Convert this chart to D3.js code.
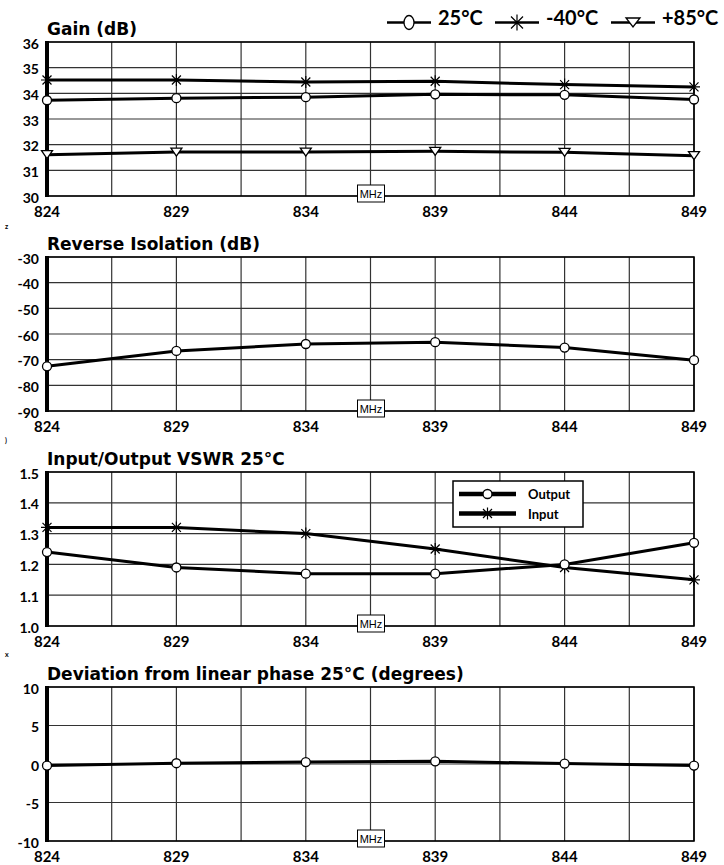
<!DOCTYPE html>
<html>
<head>
<meta charset="utf-8">
<script src="https://cdn.jsdelivr.net/npm/d3@7"></script>
<style>
  body { margin: 0; background: #fff; }
  svg { display: block; font-family: Lato, "Open Sans", sans-serif; }
</style>
</head>
<body>
<main></main>
<script>
const width = 724;
const height = 865;

// frequencies (MHz)
const freqs = [824, 829, 834, 839, 844, 849];
const freqTicks = [824, 829, 834, 839, 844, 849];
const freqGrid = [826.5, 831.5, 836.5, 841.5, 846.5];

// Gain (dB)
const gain25 = [33.73, 33.81, 33.85, 33.96, 33.94, 33.76];
const gainMinus40 = [34.52, 34.52, 34.44, 34.47, 34.34, 34.25];
const gainPlus85 = [31.61, 31.71, 31.71, 31.74, 31.7, 31.57];
const gainTicks = [30, 31, 32, 33, 34, 35, 36];

// Reverse isolation (dB)
const isolation = [-72.6, -66.6, -63.9, -63.2, -65.3, -70.2];
const isolationTicks = [-90, -80, -70, -60, -50, -40, -30];

// VSWR 25°C
const vswrOutput = [1.24, 1.19, 1.17, 1.17, 1.2, 1.27];
const vswrInput = [1.32, 1.32, 1.3, 1.25, 1.19, 1.15];
const vswrTicks = [1.0, 1.1, 1.2, 1.3, 1.4, 1.5];

// Deviation from linear phase (degrees)
const phase = [-0.2, 0.1, 0.25, 0.35, 0.05, -0.2];
const phaseTicks = [-10, -5, 0, 5, 10];

const svg = d3
  .select("main")
  .append("svg")
  .attr("width", width)
  .attr("height", height)
  .attr("viewBox", `0 0 ${width} ${height}`);

const left = 47;
const right = 694;
const panelHeight = 154;

const x = d3.scaleLinear().domain([824, 849]).range([left, right]);

function marker(g, type, cx, cy, big) {
  if (type === "circle") {
    g.append("ellipse")
      .attr("cx", cx)
      .attr("cy", cy)
      .attr("rx", big ? 5 : 4.5)
      .attr("ry", big ? 7 : 4.5)
      .attr("fill", "#fff")
      .attr("stroke", "#000")
      .attr("stroke-width", 1.3);
  } else if (type === "star") {
    const s = big ? 8 : 6;
    const d = s * 0.75;
    g.append("path")
      .attr(
        "d",
        `M${cx - s},${cy}H${cx + s}M${cx},${cy - s}V${cy + s}` +
          `M${cx - d},${cy - d}L${cx + d},${cy + d}M${cx - d},${cy + d}L${cx + d},${cy - d}`
      )
      .attr("stroke", "#000")
      .attr("stroke-width", 1.2)
      .attr("fill", "none");
  } else if (type === "triangle") {
    const w = big ? 7 : 5.5;
    const h = big ? 9 : 8;
    g.append("path")
      .attr(
        "d",
        `M${cx - w},${cy - h / 2}L${cx + w},${cy - h / 2}L${cx},${cy + h / 2}Z`
      )
      .attr("fill", "#fff")
      .attr("stroke", "#000")
      .attr("stroke-width", 1.3);
  }
}

function drawPanel(top, title, domain, ticks, fmt, series) {
  const y = d3.scaleLinear().domain(domain).range([top + panelHeight, top]);
  const g = svg.append("g");

  // horizontal grid
  g.selectAll(".hgrid")
    .data(ticks)
    .enter()
    .append("line")
    .attr("x1", left)
    .attr("x2", right)
    .attr("y1", (d) => y(d))
    .attr("y2", (d) => y(d))
    .attr("stroke", "#333")
    .attr("stroke-width", 1.2);

  // vertical grid
  g.selectAll(".vgrid")
    .data(freqTicks.concat(freqGrid))
    .enter()
    .append("line")
    .attr("x1", (d) => x(d))
    .attr("x2", (d) => x(d))
    .attr("y1", top)
    .attr("y2", top + panelHeight)
    .attr("stroke", "#333")
    .attr("stroke-width", 1.2);

  // frame
  g.append("path")
    .attr("d", `M${left},${top}H${right}V${top + panelHeight}H${left}`)
    .attr("fill", "none")
    .attr("stroke", "#000")
    .attr("stroke-width", 1.6);
  g.append("line")
    .attr("x1", left)
    .attr("x2", left)
    .attr("y1", top - 1)
    .attr("y2", top + panelHeight + 1)
    .attr("stroke", "#000")
    .attr("stroke-width", 4);

  // y labels
  g.selectAll(".ylab")
    .data(ticks)
    .enter()
    .append("text")
    .attr("x", 39)
    .attr("y", (d) => y(d) + 6.5)
    .attr("text-anchor", "end")
    .attr("font-size", 14)
    .attr("font-weight", 700)
    .text((d) => fmt(d));

  // x labels
  g.selectAll(".xlab")
    .data(freqTicks)
    .enter()
    .append("text")
    .attr("x", (d) => x(d))
    .attr("y", top + panelHeight + 21)
    .attr("text-anchor", "middle")
    .attr("font-size", 15)
    .attr("font-weight", 700)
    .text((d) => d);

  // title
  g.append("text")
    .attr("x", left)
    .attr("y", top - 7.5)
    .attr("font-size", 17)
    .attr("font-weight", 700)
    .attr("font-family", "DejaVu Sans, sans-serif")
    .text(title);

  // MHz box
  const mx = x(836.5) - 14;
  g.append("rect")
    .attr("x", mx + 1)
    .attr("y", top + panelHeight - 11)
    .attr("width", 27)
    .attr("height", 17)
    .attr("fill", "#fff")
    .attr("stroke", "#000")
    .attr("stroke-width", 1);
  g.append("text")
    .attr("x", mx + 14.5)
    .attr("y", top + panelHeight + 2)
    .attr("text-anchor", "middle")
    .attr("font-size", 11)
    .attr("font-family", "Liberation Sans, Arial, sans-serif")
    .text("MHz");

  // series
  const line = d3
    .line()
    .x((d, i) => x(freqs[i]))
    .y((d) => y(d));
  series.forEach((s) => {
    g.append("path")
      .datum(s.values)
      .attr("d", line)
      .attr("fill", "none")
      .attr("stroke", "#000")
      .attr("stroke-width", 3);
  });
  series.forEach((s) => {
    s.values.forEach((v, i) => marker(g, s.marker, x(freqs[i]), y(v), false));
  });
  return g;
}

const tops = [42, 257, 472, 687];

drawPanel(tops[0], "Gain (dB)", [30, 36], gainTicks, (d) => d, [
  { values: gainMinus40, marker: "star" },
  { values: gain25, marker: "circle" },
  { values: gainPlus85, marker: "triangle" },
]);

drawPanel(
  tops[1],
  "Reverse Isolation (dB)",
  [-90, -30],
  isolationTicks,
  (d) => d,
  [{ values: isolation, marker: "circle" }]
);

drawPanel(
  tops[2],
  "Input/Output VSWR 25°C",
  [1.0, 1.5],
  vswrTicks,
  d3.format(".1f"),
  [
    { values: vswrInput, marker: "star" },
    { values: vswrOutput, marker: "circle" },
  ]
);

drawPanel(
  tops[3],
  "Deviation from linear phase 25°C (degrees)",
  [-10, 10],
  phaseTicks,
  (d) => d,
  [{ values: phase, marker: "circle" }]
);

// top legend for temperature
const tempLegend = [
  { label: "25°C", marker: "circle", x: 387 },
  { label: "-40°C", marker: "star", x: 495 },
  { label: "+85°C", marker: "triangle", x: 611 },
];
const tl = svg.append("g");
tempLegend.forEach((d) => {
  tl.append("line")
    .attr("x1", d.x)
    .attr("x2", d.x + 44)
    .attr("y1", 22.5)
    .attr("y2", 22.5)
    .attr("stroke", "#000")
    .attr("stroke-width", 2.5);
  marker(tl, d.marker, d.x + 22, 22.5, true);
  tl.append("text")
    .attr("x", d.x + 51)
    .attr("y", 25)
    .attr("font-size", 20)
    .attr("font-weight", 700)
    .text(d.label);
});

// VSWR legend box
const vswrLegend = [
  { label: "Output", marker: "circle" },
  { label: "Input", marker: "star" },
];
const lg = svg.append("g");
lg.append("rect")
  .attr("x", 453)
  .attr("y", 481)
  .attr("width", 130)
  .attr("height", 46)
  .attr("fill", "#fff")
  .attr("stroke", "#000")
  .attr("stroke-width", 1.5);
vswrLegend.forEach((d, i) => {
  const ly = 494 + i * 19.5;
  lg.append("line")
    .attr("x1", 459)
    .attr("x2", 516)
    .attr("y1", ly)
    .attr("y2", ly)
    .attr("stroke", "#000")
    .attr("stroke-width", 4.5);
  marker(lg, d.marker, 487.5, ly, false);
  lg.append("text")
    .attr("x", 528)
    .attr("y", ly + 5)
    .attr("font-size", 13)
    .attr("font-weight", 700)
    .text(d.label);
});

// small stray marks at left edge
const strays = [
  { t: "z", y: 229 },
  { t: ")", y: 443 },
  { t: "x", y: 657 },
];
svg
  .selectAll(".stray")
  .data(strays)
  .enter()
  .append("text")
  .attr("x", 5)
  .attr("y", (d) => d.y)
  .attr("font-size", 7)
  .attr("font-weight", 700)
  .text((d) => d.t);
</script>
</body>
</html>
